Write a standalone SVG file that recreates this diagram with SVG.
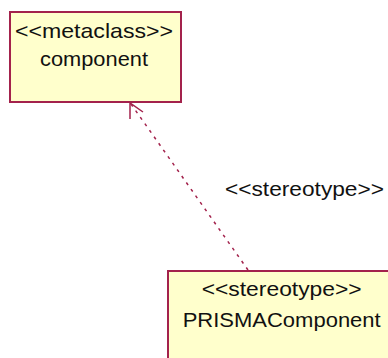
<svg xmlns="http://www.w3.org/2000/svg" width="388" height="358" viewBox="0 0 388 358">
<style>
.box{fill:#ffffcc;stroke:#a3224c;stroke-width:2}
.t{font-family:"Liberation Sans",Arial,sans-serif;font-size:21px;fill:#111;text-anchor:middle}
.dep{fill:none;stroke:#a3224c;stroke-width:1.5;stroke-dasharray:3,5}
.head{fill:none;stroke:#a3224c;stroke-width:1.5}
</style>
<rect width="388" height="358" fill="#ffffff"/>
<g id="connectors">
<line class="dep" x1="248" y1="270" x2="131" y2="104"/>
<polyline class="head" points="130,119 130,103 143,112"/>
<text class="t" x="304.5" y="196" textLength="159" lengthAdjust="spacingAndGlyphs">&lt;&lt;stereotype&gt;&gt;</text>
</g>
<g id="component">
<rect class="box" x="10" y="12" width="171" height="90"/>
<text class="t" x="94" y="38" textLength="158" lengthAdjust="spacingAndGlyphs">&lt;&lt;metaclass&gt;&gt;</text>
<text class="t" x="94" y="66" textLength="108" lengthAdjust="spacingAndGlyphs">component</text>
</g>
<g id="PRISMAComponent">
<rect class="box" x="168" y="271" width="230" height="100"/>
<text class="t" x="281.7" y="296" textLength="160" lengthAdjust="spacingAndGlyphs">&lt;&lt;stereotype&gt;&gt;</text>
<text class="t" x="281.7" y="327" textLength="198" lengthAdjust="spacingAndGlyphs">PRISMAComponent</text>
</g>
</svg>
